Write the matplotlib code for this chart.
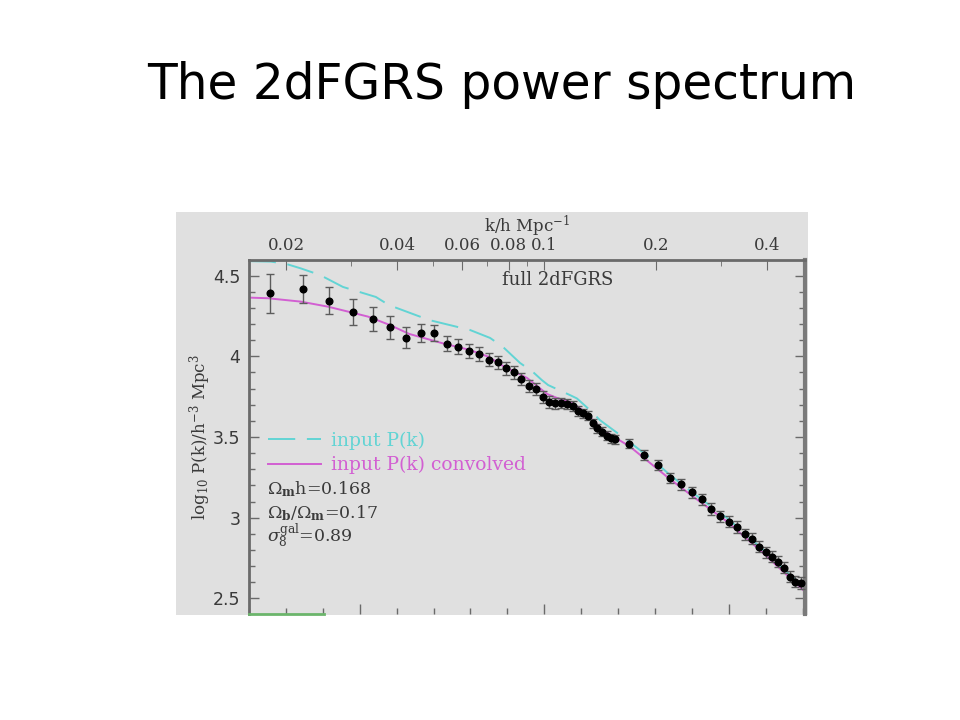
import numpy as np
import matplotlib
matplotlib.use("Agg")
import matplotlib.pyplot as plt
from matplotlib.patches import Rectangle
from matplotlib.lines import Line2D
from matplotlib.ticker import FixedLocator, NullFormatter

# measured 2dFGRS band powers (k in h/Mpc, log10 P)
k_data = [0.01813, 0.02218, 0.02618, 0.03027, 0.03428, 0.03828, 0.04221, 0.04634,
          0.05012, 0.05445, 0.05834, 0.06252, 0.06653, 0.07079, 0.07469, 0.07870,
          0.08279, 0.08670, 0.09078, 0.09484, 0.09886, 0.1030, 0.1069, 0.1110,
          0.1153, 0.1192, 0.1230, 0.1272, 0.1312, 0.1352, 0.1391, 0.1433,
          0.1474, 0.1514, 0.1552, 0.1696, 0.1858, 0.2023, 0.2183, 0.2344,
          0.2500, 0.2673, 0.2822, 0.2988, 0.3151, 0.3319, 0.3483, 0.3639,
          0.3802, 0.3967, 0.4128, 0.4295, 0.4459, 0.4615, 0.4776, 0.4942]
logP_data = [4.391, 4.416, 4.345, 4.273, 4.232, 4.180, 4.116, 4.143,
             4.147, 4.078, 4.060, 4.033, 4.013, 3.980, 3.962, 3.925,
             3.901, 3.860, 3.816, 3.798, 3.750, 3.717, 3.709, 3.709,
             3.705, 3.692, 3.661, 3.646, 3.632, 3.586, 3.553, 3.532,
             3.509, 3.492, 3.486, 3.458, 3.387, 3.325, 3.246, 3.207,
             3.158, 3.114, 3.054, 3.009, 2.975, 2.942, 2.897, 2.869,
             2.820, 2.785, 2.758, 2.728, 2.691, 2.634, 2.603, 2.595]
logP_err = [0.120, 0.088, 0.084, 0.080, 0.073, 0.070, 0.067, 0.055,
            0.050, 0.048, 0.046, 0.044, 0.042, 0.041, 0.041, 0.040,
            0.040, 0.039, 0.038, 0.037, 0.037, 0.035, 0.033, 0.032,
            0.031, 0.030, 0.030, 0.029, 0.028, 0.028, 0.027, 0.027,
            0.027, 0.027, 0.027, 0.028, 0.030, 0.031, 0.033, 0.034,
            0.034, 0.035, 0.035, 0.035, 0.035, 0.035, 0.035, 0.035,
            0.035, 0.035, 0.035, 0.035, 0.035, 0.035, 0.035, 0.035]

# input model P(k)
logk_input = [-1.8, -1.740, -1.699, -1.659, -1.607, -1.545, -1.456, -1.421, -1.312,
              -1.201, -1.147, -1.112, -1.066, -1.031, -1.007, -0.990, -0.931, -0.912,
              -0.877, -0.850, -0.777, -0.706, -0.660, -0.598, -0.506, -0.417, -0.295]
logP_input = [4.590, 4.587, 4.573, 4.545, 4.504, 4.430, 4.368, 4.318, 4.225,
              4.163, 4.114, 4.058, 3.959, 3.903, 3.853, 3.822, 3.760, 3.739,
              3.667, 3.605, 3.481, 3.357, 3.264, 3.153, 2.998, 2.820, 2.558]

# model convolved with the window
logk_conv = [-1.8, -1.748, -1.659, -1.586, -1.531, -1.477, -1.418, -1.366, -1.274,
             -1.201, -1.150, -1.112, -1.047, -0.993, -0.966, -0.931, -0.896, -0.842,
             -0.769, -0.661, -0.598, -0.506, -0.417, -0.295]
logP_conv = [4.364, 4.360, 4.339, 4.308, 4.277, 4.246, 4.194, 4.139, 4.080,
             4.039, 3.996, 3.940, 3.866, 3.767, 3.742, 3.717, 3.667, 3.543,
             3.441, 3.240, 3.131, 2.976, 2.799, 2.541]

top_ticks = [0.02, 0.04, 0.06, 0.08, 0.1, 0.2, 0.4]
top_labels = ['0.02', '0.04', '0.06', '0.08', '0.1', '0.2', '0.4']
top_minor = [0.03, 0.05, 0.07, 0.09, 0.3]

plt.rcParams['font.family'] = 'DejaVu Serif'
plt.rcParams['mathtext.fontset'] = 'dejavuserif'

cyan = '#62d4d4'
magenta = '#d25fd2'
axcol = '#6a6a6a'
txtcol = '#3a3a3a'

fig = plt.figure(figsize=(9.6, 7.2), dpi=100)
fig.patch.set_facecolor('white')

# grey screenshot panel
fig.patches.append(Rectangle((176/960, 1-615/720), 632/960, 403/720,
                             transform=fig.transFigure, facecolor='#e0e0e0',
                             edgecolor='none', zorder=-10))

fig.text(0.523, 0.882, 'The 2dFGRS power spectrum', ha='center', va='center',
         fontsize=35, family='DejaVu Sans', color='black')

ax = fig.add_axes([248.7/960, 1-614/720, 556.3/960, 354/720])
ax.set_facecolor('#e0e0e0')

ax.plot(10**np.array(logk_input), logP_input, color=cyan, lw=1.4,
        dashes=(14, 6), zorder=2)
ax.plot(10**np.array(logk_conv), logP_conv, color=magenta, lw=1.4, zorder=2)
ax.errorbar(k_data, logP_data, yerr=logP_err, fmt='o', color='black', ms=4.8,
            ecolor='#5c5c5c', elinewidth=1.0, capsize=3, capthick=1.0, zorder=3)

ax.set_xscale('log')
ax.set_xlim(10**-1.8, 10**-0.295)
ax.set_ylim(2.403, 4.597)

# bottom axis: log10 k ticks, labels cut off in the screenshot
ax.xaxis.set_major_locator(FixedLocator(10**np.array([-1.5, -1.0, -0.5])))
ax.xaxis.set_minor_locator(FixedLocator(10**np.arange(-1.8, -0.25, 0.1)))
ax.xaxis.set_major_formatter(NullFormatter())
ax.xaxis.set_minor_formatter(NullFormatter())

ax.yaxis.set_major_locator(FixedLocator([2.5, 3, 3.5, 4, 4.5]))
ax.yaxis.set_minor_locator(FixedLocator(np.arange(2.5, 4.61, 0.1)))
ax.set_yticklabels(['2.5', '3', '3.5', '4', '4.5'], family='DejaVu Sans',
                   fontsize=12.5, color=txtcol)

ax.tick_params(which='both', direction='in', color=axcol, right=True, top=False)
ax.tick_params(which='major', length=7, width=1)
ax.tick_params(which='minor', length=4, width=1)
ax.tick_params(axis='y', pad=6)

for s in ['left', 'top']:
    ax.spines[s].set_color(axcol)
    ax.spines[s].set_linewidth(2)
ax.spines['right'].set_color('#7a7a7a')
ax.spines['right'].set_linewidth(3)
ax.spines['bottom'].set_visible(False)

secax = ax.secondary_xaxis('top')
secax.set_xticks(top_ticks, labels=top_labels)
secax.xaxis.set_minor_locator(FixedLocator(top_minor))
secax.xaxis.set_minor_formatter(NullFormatter())
secax.tick_params(which='both', direction='in', color=axcol, labelsize=12,
                  labelcolor=txtcol, pad=4)
secax.tick_params(which='major', length=7)
secax.tick_params(which='minor', length=4)
secax.spines['top'].set_visible(False)
secax.set_xlabel(r'k/h Mpc$^{-1}$', fontsize=12, color=txtcol, labelpad=4)

ax.set_ylabel(r'log$_{10}$ P(k)/h$^{-3}$ Mpc$^3$', fontsize=12, color=txtcol,
              labelpad=0)

# green stub along the bottom edge
ax.plot([0, 0.135], [0, 0], transform=ax.transAxes, color='#6bb56b', lw=2,
        clip_on=False, zorder=4)

ax.text(0.556, 0.943, 'full 2dFGRS', transform=ax.transAxes, ha='center',
        va='center', fontsize=13, color=txtcol)

handles = [Line2D([], [], color=cyan, lw=1.4, dashes=(14, 6)),
           Line2D([], [], color=magenta, lw=1.4)]
leg = ax.legend(handles, ['input P(k)', 'input P(k) convolved'],
                loc='center left', bbox_to_anchor=(0.004, 0.455), frameon=False,
                handlelength=2.85, handletextpad=0.5, labelspacing=0.35,
                fontsize=13.5, labelcolor=[cyan, magenta])

ax.text(0.032, 0.353, r'$\Omega_\mathbf{m}$h=0.168', transform=ax.transAxes,
        va='center', fontsize=12.5, color=txtcol)
ax.text(0.032, 0.286, r'$\Omega_\mathbf{b}/\Omega_\mathbf{m}$=0.17',
        transform=ax.transAxes, va='center', fontsize=12.5, color=txtcol)
ax.text(0.032, 0.221, r'$\sigma_8^{\rm gal}$=0.89', transform=ax.transAxes,
        va='center', fontsize=12.5, color=txtcol)

fig.savefig('out.png', dpi=100)
